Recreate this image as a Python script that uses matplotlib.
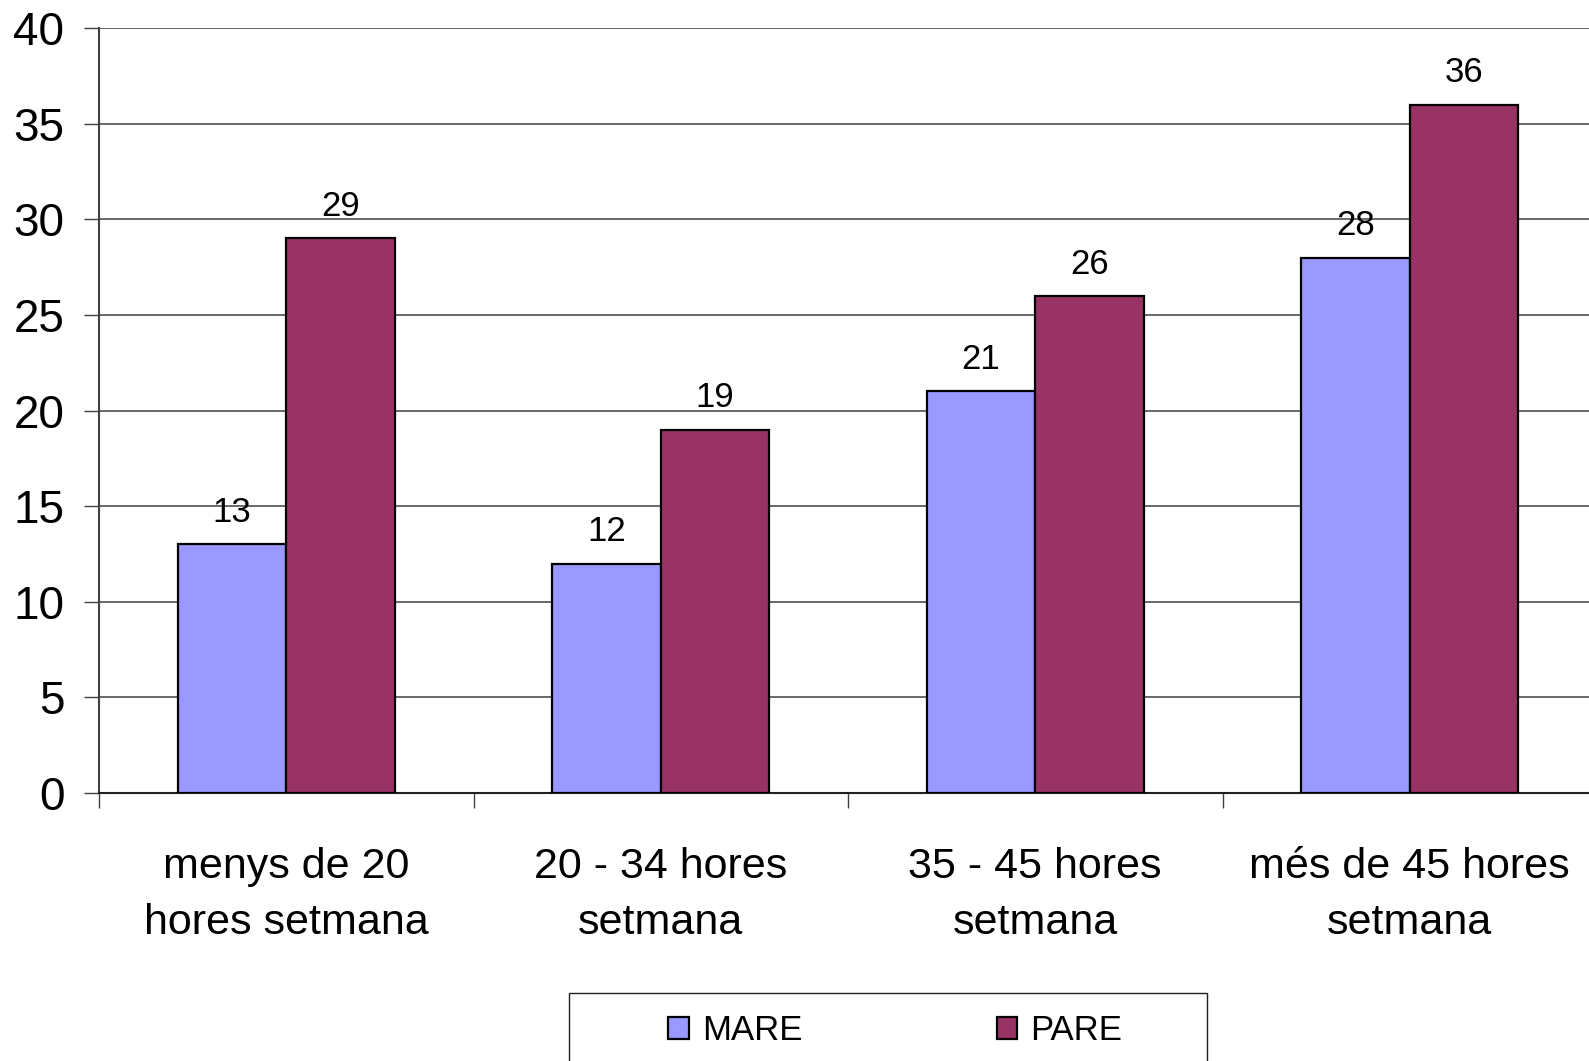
import numpy as np
import matplotlib.pyplot as plt
from matplotlib.patches import Rectangle

plt.rcParams['font.family'] = ['Liberation Sans', 'DejaVu Sans']

categories = ['menys de 20\nhores setmana', '20 - 34 hores\nsetmana',
              '35 - 45 hores\nsetmana', 'més de 45 hores\nsetmana']
mare = [13, 12, 21, 28]
pare = [29, 19, 26, 36]
series_names = ['MARE', 'PARE']
colors = ['#9999FF', '#993366']

W, H = 1589, 1061
fig = plt.figure(figsize=(W / 100, H / 100), dpi=100)
ax = fig.add_axes([99 / W, 1 - 793 / H, 1498 / W, 765 / H])

x = np.arange(len(categories)) + 0.5
bw = 0.29
bars = []
for i, (vals, name) in enumerate(zip([mare, pare], series_names)):
    b = ax.bar(x + (i - 0.5) * bw, vals, bw, color=colors[i], edgecolor='black',
               linewidth=1.6, label=name, zorder=3)
    bars.append(b)
    for rect, v in zip(b, vals):
        ax.annotate(str(v), (rect.get_x() + rect.get_width() / 2, v),
                    xytext=(0, 16), textcoords='offset points',
                    ha='center', va='baseline', fontsize=25, zorder=4)

ax.set_xlim(0, len(categories))
ax.set_ylim(0, 40)
ax.set_yticks(np.arange(0, 41, 5))
ax.yaxis.grid(True, color='#404040', linewidth=1.1, zorder=0)
ax.set_axisbelow(True)

ax.set_xticks(np.arange(len(categories) + 1))
ax.set_xticklabels([])
ax.set_xticks(x, minor=True)
ax.set_xticklabels(categories, minor=True, fontsize=31, linespacing=1.5)
ax.tick_params(axis='x', which='minor', length=0, pad=39)
ax.tick_params(axis='x', which='major', length=11, width=1, color='#404040', direction='out')
ax.tick_params(axis='y', length=11, width=1, color='#404040', direction='out',
               labelsize=33, pad=14)

for s in ['top', 'right']:
    ax.spines[s].set_visible(False)
ax.spines['left'].set_color('#404040')
ax.spines['left'].set_linewidth(1.5)
ax.spines['bottom'].set_color('#202020')
ax.spines['bottom'].set_linewidth(1.5)

# legend box
fig.patches.append(Rectangle((569 / W, -0.05), 638 / W, (H - 993) / H + 0.05,
                             transform=fig.transFigure, fill=False,
                             edgecolor='#202020', linewidth=1))
fig.legend(handles=bars, labels=series_names, loc='center left',
           bbox_to_anchor=(668 / W, 1 - 1031 / H), ncol=2, frameon=False,
           fontsize=25, handlelength=0.6, handleheight=0.6, handletextpad=0.37,
           columnspacing=5.6, borderpad=0, borderaxespad=0)

fig.savefig('out.png', dpi=100)
